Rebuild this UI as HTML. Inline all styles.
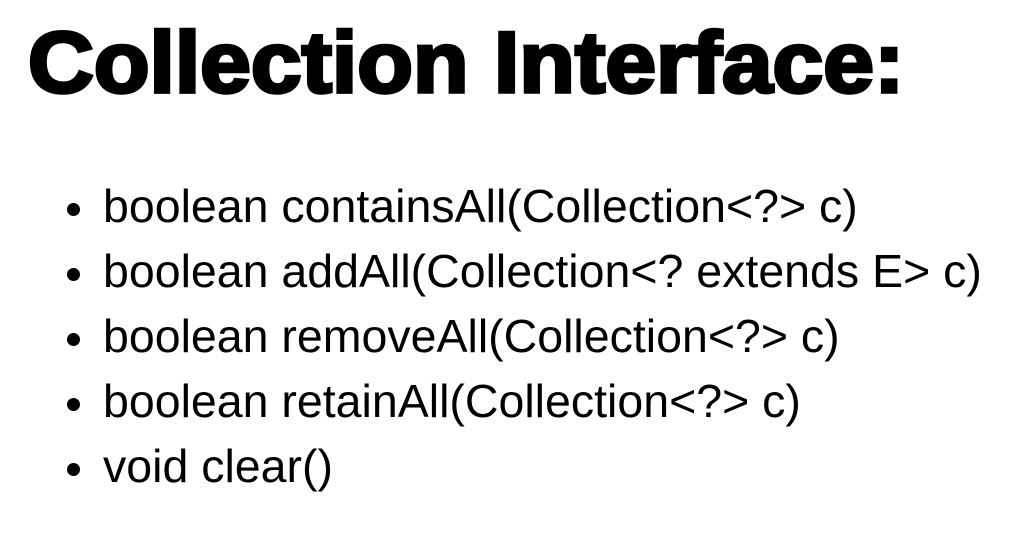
<!DOCTYPE html>
<html><head><style>
body{margin:0;width:1027px;height:533px;background:#fff;overflow:hidden;position:relative;font-family:"Liberation Sans",sans-serif;color:#000}
.t{position:absolute;left:28px;top:14px;font-size:86px;font-weight:bold;letter-spacing:0px;-webkit-text-stroke:3.5px #000;white-space:nowrap;transform-origin:0 0;transform:scaleX(1.06)}
.l{position:absolute;left:103px;font-size:46.5px;white-space:nowrap;line-height:1}
.d{position:absolute;left:67px;width:13px;height:13px;border-radius:50%;background:#000}
</style></head><body>
<div class="t">Collection Interface:</div>
<div class="d" style="top:203px"></div><div class="l" style="top:183px">boolean containsAll(Collection&lt;?&gt; c)</div>
<div class="d" style="top:268px"></div><div class="l" style="top:248px">boolean addAll(Collection&lt;? extends E&gt; c)</div>
<div class="d" style="top:333px"></div><div class="l" style="top:313px">boolean removeAll(Collection&lt;?&gt; c)</div>
<div class="d" style="top:398px"></div><div class="l" style="top:378px">boolean retainAll(Collection&lt;?&gt; c)</div>
<div class="d" style="top:463px"></div><div class="l" style="top:443px">void clear()</div>
</body></html>
